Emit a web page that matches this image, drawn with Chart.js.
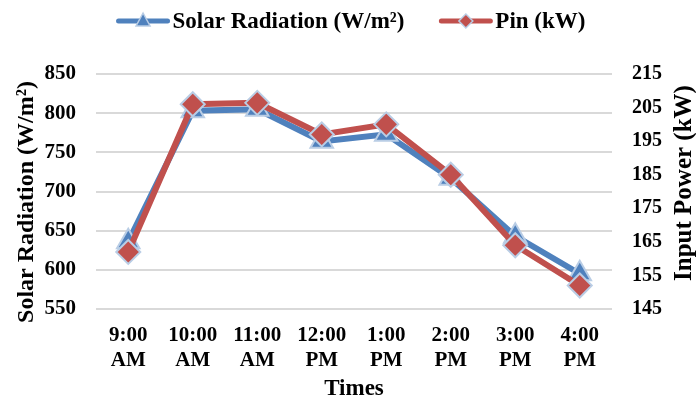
<!DOCTYPE html>
<html><head><meta charset="utf-8">
<script src="https://cdn.jsdelivr.net/npm/chart.js@4/dist/chart.umd.min.js"></script>
<style>html,body{margin:0;padding:0;background:#fff}#wrap{width:696px;height:403px}</style>
</head><body><div id="wrap"><canvas id="c" width="696" height="403"></canvas></div>
<script>
const categories = [["9:00","AM"],["10:00","AM"],["11:00","AM"],["12:00","PM"],["1:00","PM"],["2:00","PM"],["3:00","PM"],["4:00","PM"]];
const solarRadiation = [636, 803, 805, 764, 773, 717, 643, 595];
const inputPower = [162, 206, 206.4, 197, 200, 185, 164, 152];
const leftTicks = [550, 600, 650, 700, 750, 800, 850];
const rightTicks = [145, 155, 165, 175, 185, 195, 205, 215];
const seriesNames = ["Solar Radiation (W/m\u00B2)", "Pin (kW)"];
const leftTitle = "Solar Radiation (W/m\u00B2)";
const rightTitle = "Input Power (kW)";
const xTitle = "Times";

const FONT = "'Liberation Serif', 'Times New Roman', serif";
const BLUE = '#4F81BD', RED = '#C0504D', EDGE = '#B9CDE5';

function drawMarker(g, kind, x, y) {
  g.save();
  g.fillStyle = kind === 'tri' ? BLUE : RED;
  g.strokeStyle = EDGE; g.lineWidth = 1.5;
  g.beginPath();
  if (kind === 'tri') { g.moveTo(x, y - 8); g.lineTo(x + 7, y + 5); g.lineTo(x - 7, y + 5); }
  else { g.moveTo(x, y - 7); g.lineTo(x + 7, y); g.lineTo(x, y + 7); g.lineTo(x - 7, y); }
  g.closePath(); g.fill(); g.stroke();
  g.restore();
}

const decorations = {
  id: 'decorations',
  afterDraw(chart) {
    const g = chart.ctx;
    const lineLen = 53, textGap = 3, itemGap = 35, cy = 21;
    g.save();
    g.font = 'bold 23px ' + FONT;
    g.textBaseline = 'middle';
    const kinds = ['tri', 'dia'];
    const colors = [BLUE, RED];
    const widths = seriesNames.map(t => g.measureText(t).width);
    const total = widths.reduce((a, w) => a + lineLen + textGap + w, 0) + itemGap * (seriesNames.length - 1);
    let x = 351 - total / 2;
    seriesNames.forEach((name, i) => {
      g.strokeStyle = colors[i]; g.lineWidth = 5; g.lineCap = 'round';
      g.beginPath(); g.moveTo(x + 2, cy); g.lineTo(x + lineLen - 2, cy); g.stroke();
      drawMarker(g, kinds[i], x + lineLen / 2, cy);
      g.fillStyle = '#000';
      g.fillText(name, x + lineLen + textGap, cy + 1);
      x += lineLen + textGap + widths[i] + itemGap;
    });
    g.textAlign = 'center';
    g.fillStyle = '#000';
    g.save();
    g.translate(27, 202); g.rotate(-Math.PI / 2);
    g.font = 'bold 24px ' + FONT;
    g.fillText(leftTitle, 0, 0);
    g.restore();
    g.save();
    g.translate(685, 183); g.rotate(-Math.PI / 2);
    g.font = 'bold 25px ' + FONT;
    g.fillText(rightTitle, 0, 0);
    g.restore();
    g.restore();
  }
};

new Chart(document.getElementById('c'), {
  type: 'line',
  data: {
    labels: categories,
    datasets: [
      { label: seriesNames[0], data: solarRadiation, yAxisID: 'y', order: 1,
        borderColor: BLUE, borderWidth: 6, pointStyle: 'triangle', pointRadius: 13,
        pointBackgroundColor: BLUE, pointBorderColor: EDGE, pointBorderWidth: 2, tension: 0 },
      { label: seriesNames[1], data: inputPower, yAxisID: 'y1', order: 0,
        borderColor: RED, borderWidth: 6, pointStyle: 'rectRot', pointRadius: 12,
        pointBackgroundColor: RED, pointBorderColor: EDGE, pointBorderWidth: 2, tension: 0 }
    ]
  },
  options: {
    responsive: false, animation: false,
    layout: { padding: { left: 0, right: 0, top: 74, bottom: 0 }, autoPadding: false },
    plugins: { tooltip: { enabled: false }, legend: { display: false } },
    scales: {
      x: {
        offset: true,
        afterFit: (s) => { s.height = 94; },
        grid: { display: false, drawTicks: false },
        border: { display: false },
        ticks: { color: '#000', font: { family: FONT, size: 21, weight: 'bold' }, maxRotation: 0, autoSkip: false, padding: 14 },
        title: { display: true, text: xTitle, color: '#000', font: { family: FONT, size: 23, weight: 'bold' }, padding: { top: 4, bottom: 0 } }
      },
      y: {
        position: 'left', min: 550, max: 850,
        afterBuildTicks: (s) => { s.ticks = leftTicks.map(v => ({ value: v })); },
        afterFit: (s) => { s.width = 96; },
        grid: { color: '#D9D9D9', lineWidth: 2, drawTicks: false },
        border: { display: false },
        ticks: { color: '#000', font: { family: FONT, size: 21, weight: 'bold' }, padding: 20 }
      },
      y1: {
        position: 'right', min: 145, max: 215,
        afterBuildTicks: (s) => { s.ticks = rightTicks.map(v => ({ value: v })); },
        afterFit: (s) => { s.width = 84; },
        grid: { display: false, drawTicks: false },
        border: { display: false },
        ticks: { color: '#000', font: { family: FONT, size: 20, weight: 'bold' }, padding: 20 }
      }
    }
  },
  plugins: [decorations]
});
</script></body></html>
